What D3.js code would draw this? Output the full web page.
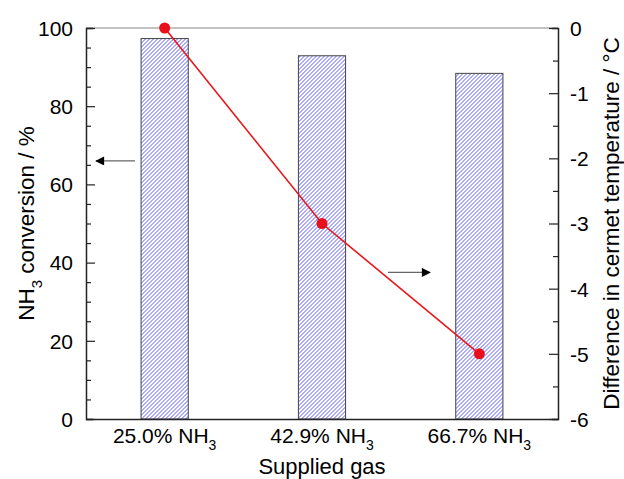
<!DOCTYPE html>
<html>
<head>
<meta charset="utf-8">
<script src="https://cdn.jsdelivr.net/npm/d3@7"></script>
<style>
  body { margin: 0; background: #fff; }
  svg text { font-family: "Liberation Sans", Arial, sans-serif; fill: #000; }
</style>
</head>
<body>
<div id="chart"></div>
<script>
// data
const categories = ['25.0%', '42.9%', '66.7%'];
const conversion = [97.3, 92.9, 88.4];
const tempDiff = [0, -3, -5];
const leftTicks = [0, 20, 40, 60, 80, 100];
const rightTicks = [0, -1, -2, -3, -4, -5, -6];

const width = 624, height = 479;
const margin = {top: 28, right: 66, bottom: 60, left: 86};

const svg = d3.select('#chart').append('svg')
    .attr('width', width)
    .attr('height', height);

const x = d3.scaleBand()
    .domain(categories)
    .range([margin.left, width - margin.right])
    .paddingInner(0.7)
    .paddingOuter(0.35);

const yL = d3.scaleLinear().domain([0, 100]).range([height - margin.bottom, margin.top]);
const yR = d3.scaleLinear().domain([-6, 0]).range([height - margin.bottom, margin.top]);

const defs = svg.append('defs');

// bars: white box, clipped diagonal hatch (same grid for every bar), dark outline
const hatchGap = 4;
categories.forEach((c, i) => {
    const bx = x(c), bw = x.bandwidth();
    const by = yL(conversion[i]), bh = yL(0) - by;

    defs.append('clipPath').attr('id', 'clip' + i)
        .append('rect').attr('x', bx).attr('y', by).attr('width', bw).attr('height', bh);

    const g = svg.append('g').attr('clip-path', `url(#clip${i})`);
    g.append('rect').attr('x', bx).attr('y', by).attr('width', bw).attr('height', bh).attr('fill', '#fff');
    // lines x + y = s, s half way between pixel diagonals
    const s0 = Math.floor((bx + by) / hatchGap) * hatchGap + 0.5;
    const s1 = Math.ceil((bx + bw + by + bh) / hatchGap) * hatchGap;
    g.selectAll('line')
        .data(d3.range(s0, s1 + 1, hatchGap))
        .enter().append('line')
        .attr('x1', s => s - (by + bh)).attr('y1', by + bh)
        .attr('x2', s => s - by).attr('y2', by)
        .style('stroke', '#4646f2')
        .style('stroke-width', 0.9);

    svg.append('rect')
        .attr('x', bx).attr('y', by).attr('width', bw).attr('height', bh)
        .attr('fill', 'none')
        .attr('stroke', '#444')
        .attr('stroke-width', 1);
});

// frame top
svg.append('line')
    .attr('x1', margin.left).attr('x2', width - margin.right)
    .attr('y1', margin.top).attr('y2', margin.top)
    .attr('stroke', '#888').attr('stroke-width', 1.2);

// left axis, ticks inside
const left = svg.append('g').attr('transform', `translate(${margin.left},0)`);
left.call(d3.axisRight(yL).tickValues(d3.range(0, 101, 5)).tickSize(7).tickFormat(''));
left.selectAll('.tick line').attr('x2', d => d % 20 === 0 ? 9 : 5);
left.selectAll('.tick text').remove();
left.selectAll('.tick').filter(d => leftTicks.indexOf(d) >= 0)
    .append('text')
    .attr('x', -13)
    .attr('dy', '0.35em')
    .attr('text-anchor', 'end')
    .style('font-size', '21px')
    .text(d => d);

// right axis, ticks inside
const right = svg.append('g').attr('transform', `translate(${width - margin.right},0)`);
right.call(d3.axisLeft(yR).tickValues(d3.range(-6, 0.01, 0.5)).tickFormat(''));
right.selectAll('.tick line').attr('x2', d => Number.isInteger(d) ? -9 : -5);
right.selectAll('.tick').filter(d => rightTicks.indexOf(d) >= 0)
    .append('text')
    .attr('x', 12)
    .attr('dy', '0.35em')
    .attr('text-anchor', 'start')
    .style('font-size', '21px')
    .text(d => d === 0 ? '0' : '-' + Math.abs(d));

// bottom axis
const bottom = svg.append('g').attr('transform', `translate(0,${height - margin.bottom})`);
bottom.call(d3.axisBottom(x).tickSize(0).tickFormat(''));
bottom.selectAll('.tick').append('text')
    .attr('y', 24)
    .attr('text-anchor', 'middle')
    .style('font-size', '21px')
    .each(function (d) {
        const t = d3.select(this);
        t.append('tspan').text(d + ' NH');
        t.append('tspan').attr('dy', 7).style('font-size', '14px').text('3');
    });

svg.selectAll('.domain').attr('stroke', '#222').attr('stroke-width', 1.5);
svg.selectAll('.tick line').attr('stroke', '#222').attr('stroke-width', 1.2);

// line series on right axis
const line = d3.line()
    .x((d, i) => x(categories[i]) + x.bandwidth() / 2)
    .y(d => yR(d));

svg.append('path')
    .datum(tempDiff)
    .attr('d', line)
    .attr('fill', 'none')
    .attr('stroke', '#e8171b')
    .attr('stroke-width', 1.6);

svg.selectAll('circle.pt')
    .data(tempDiff)
    .enter().append('circle')
    .attr('class', 'pt')
    .attr('cx', (d, i) => x(categories[i]) + x.bandwidth() / 2)
    .attr('cy', d => yR(d))
    .attr('r', 5.5)
    .attr('fill', '#e8101a');

// arrows
defs.append('marker')
    .attr('id', 'head')
    .attr('viewBox', '0 0 10 10')
    .attr('refX', 9).attr('refY', 5)
    .attr('markerWidth', 13).attr('markerHeight', 9)
    .attr('markerUnits', 'userSpaceOnUse')
    .attr('orient', 'auto')
    .append('path')
    .attr('d', 'M0,0 L10,5 L0,10 z')
    .attr('fill', '#000');

svg.append('line')
    .attr('x1', 135).attr('y1', yL(66)).attr('x2', 96).attr('y2', yL(66))
    .attr('stroke', '#666').attr('stroke-width', 1.2)
    .attr('marker-end', 'url(#head)');

svg.append('line')
    .attr('x1', 388).attr('y1', yR(-3.75)).attr('x2', 430).attr('y2', yR(-3.75))
    .attr('stroke', '#666').attr('stroke-width', 1.2)
    .attr('marker-end', 'url(#head)');

// axis titles
const yTitleL = svg.append('text')
    .attr('transform', `translate(34,${(margin.top + height - margin.bottom) / 2}) rotate(-90)`)
    .attr('text-anchor', 'middle')
    .style('font-size', '22.5px');
yTitleL.append('tspan').text('NH');
yTitleL.append('tspan').attr('dy', 8).style('font-size', '15px').text('3');
yTitleL.append('tspan').attr('dy', -8).text(' conversion / %');

svg.append('text')
    .attr('transform', `translate(619,${(margin.top + height - margin.bottom) / 2}) rotate(-90)`)
    .attr('text-anchor', 'middle')
    .style('font-size', '22.5px')
    .text('Difference in cermet temperature / °C');

svg.append('text')
    .attr('x', (margin.left + width - margin.right) / 2)
    .attr('y', 474)
    .attr('text-anchor', 'middle')
    .style('font-size', '22px')
    .text('Supplied gas');
</script>
</body>
</html>
